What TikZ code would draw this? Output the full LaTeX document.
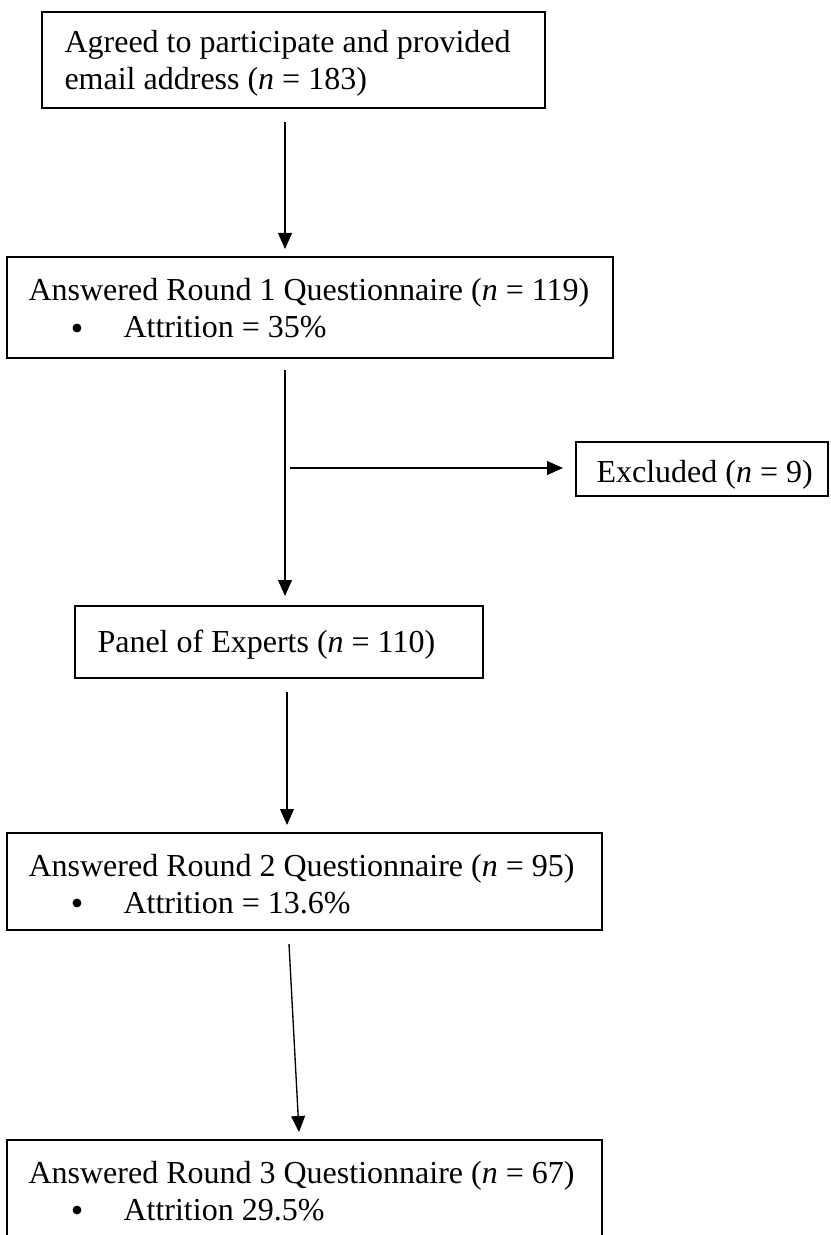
\documentclass[tikz,border=0pt]{standalone}
\usepackage{fontspec}
\setmainfont{Liberation Serif}
\usetikzlibrary{arrows.meta}
\begin{document}
\begin{tikzpicture}[x=0.375pt,y=-0.375pt,
  boxline/.style={line width=0.8pt},
  txt/.style={anchor=base west, inner sep=0pt, font=\fontsize{12}{13.8}\selectfont},
  bul/.style={circle, fill=black, inner sep=0pt, minimum size=3.3pt},
  arr/.style={line width=0.5pt, -{Triangle[length=6pt,width=5.2pt]}}]
\useasboundingbox (0,0) rectangle (830,1235);

% boxes as corner-defined rectangles
\coordinate (b1a) at (42,12);   \coordinate (b1b) at (545,108);
\coordinate (b2a) at (7,257);   \coordinate (b2b) at (613,358);
\coordinate (bxa) at (576,442); \coordinate (bxb) at (828,496);
\coordinate (b3a) at (75,606);  \coordinate (b3b) at (483,678);
\coordinate (b4a) at (7,833);   \coordinate (b4b) at (602,930);
\coordinate (b5a) at (7,1140);  \coordinate (b5b) at (602,1240);

\draw[boxline] (b1a) rectangle (b1b);
\draw[boxline] (b2a) rectangle (b2b);
\draw[boxline] (bxa) rectangle (bxb);
\draw[boxline] (b3a) rectangle (b3b);
\draw[boxline] (b4a) rectangle (b4b);
\draw[boxline] (b5a |- b5b) -- (b5a) -- (b5a -| b5b) -- (b5b);

% texts
\node[txt] (t1a) at (64,53) {Agreed to participate and provided};
\node[txt] (t1b) at (64,90) {email address (\textit{n} = 183)};
\node[txt] (t2a) at (28,301) {Answered Round 1 Questionnaire (\textit{n} = 119)};
\node[bul] (t2bul) at (77,328) {};
\node[txt] (t2b) at (123,338) {Attrition = 35\%};
\node[txt] (tx) at (596,483) {Excluded (\textit{n} = 9)};
\node[txt] (t3) at (97,652) {Panel of Experts (\textit{n} = 110)};
\node[txt] (t4a) at (28,876) {Answered Round 2 Questionnaire (\textit{n} = 95)};
\node[bul] (t4bul) at (77,903) {};
\node[txt] (t4b) at (123,913) {Attrition = 13.6\%};
\node[txt] (t5a) at (28,1183) {Answered Round 3 Questionnaire (\textit{n} = 67)};
\node[bul] (t5bul) at (77,1210) {};
\node[txt] (t5b) at (123,1220) {Attrition 29.5\%};

% connectors
\coordinate (a1s) at (285,122);  \coordinate (a1e) at (285,249);
\coordinate (a2s) at (285,370);  \coordinate (a2e) at (285,596);
\coordinate (ahs) at (290,468);  \coordinate (ahe) at (563,468);
\coordinate (a3s) at (287,692);  \coordinate (a3e) at (287,825);
\coordinate (a4s) at (289,944);  \coordinate (a4e) at (299,1132);
\draw[arr] (a1s) -- (a1e);
\draw[arr] (a2s) -- (a2e);
\draw[arr] (ahs) -- (ahe);
\draw[arr] (a3s) -- (a3e);
\draw[arr] (a4s) -- (a4e);
\end{tikzpicture}
\end{document}
